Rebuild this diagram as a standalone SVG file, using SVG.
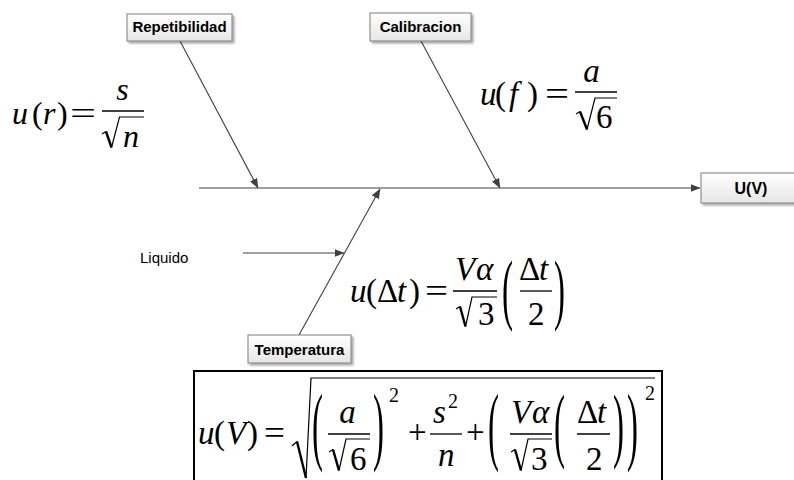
<svg xmlns="http://www.w3.org/2000/svg" width="794" height="480" viewBox="0 0 794 480">
<style>
.lbl{font-family:"Liberation Sans",Arial,sans-serif;font-weight:bold;font-size:15px;fill:#000;text-anchor:middle}
.plain{font-family:"Liberation Sans",Arial,sans-serif;font-size:15px;fill:#000}
.box{fill:url(#g);stroke:#7f7f7f;stroke-width:1;filter:url(#sh)}
.con{stroke:#404040;stroke-width:1.1;fill:none;marker-end:url(#ah)}
.m{font-family:"Liberation Serif","Times New Roman",serif;font-size:33px;fill:#000}
.m1{font-size:32px}
.i{font-style:italic}
.sup{font-size:20px}
.bar{stroke:#000;stroke-width:1.3;fill:none}
.rad{stroke:#000;stroke-width:1.2;fill:none;stroke-linejoin:miter}
.radk{stroke:#000;stroke-width:2.4;fill:none}
.frame{stroke:#000;stroke-width:2;fill:none}
</style>
<defs>
<linearGradient id="g" x1="0" y1="0" x2="0" y2="1"><stop offset="0" stop-color="#ffffff"/><stop offset="1" stop-color="#e6e6e6"/></linearGradient>
<filter id="sh" x="-10%" y="-20%" width="130%" height="160%"><feDropShadow dx="2" dy="2" stdDeviation="1" flood-color="#000" flood-opacity="0.35"/></filter>
<marker id="ah" markerWidth="10" markerHeight="8" refX="9.5" refY="4" orient="auto" markerUnits="userSpaceOnUse"><path d="M0,0 L10,4 L0,8 z" fill="#404040"/></marker>
</defs>

<g id="connectors">
<line class="con" x1="199" y1="188" x2="700" y2="188"/>
<line class="con" x1="180" y1="41" x2="258" y2="188"/>
<line class="con" x1="421" y1="41" x2="500" y2="188"/>
<line class="con" x1="299" y1="335" x2="380" y2="189"/>
<line class="con" x1="243" y1="253" x2="344" y2="253"/>
</g>

<g id="n-repetibilidad"><rect class="box" x="127" y="14" width="105" height="27"/><text class="lbl" x="179.5" y="32">Repetibilidad</text></g>
<g id="n-calibracion"><rect class="box" x="370" y="13" width="101" height="28"/><text class="lbl" x="420.5" y="32">Calibracion</text></g>
<g id="n-temperatura"><rect class="box" x="248" y="335" width="103" height="28"/><text class="lbl" x="299.5" y="355">Temperatura</text></g>
<g id="n-uv"><rect class="box" x="701" y="173" width="110" height="30"/><text class="lbl" x="751" y="194" style="font-size:16px">U(V)</text></g>
<g id="n-liquido"><text class="plain" x="140" y="263">Liquido</text></g>

<g id="f-repetibilidad">
<text class="m m1 i" x="12" y="124">u</text>
<text class="m m1" x="32" y="124">(</text>
<text class="m m1 i" x="43" y="124">r</text>
<text class="m m1" x="57" y="124">)</text>
<text class="m m1" x="70" y="124" textLength="26" lengthAdjust="spacingAndGlyphs">=</text>
<text class="m m1 i" x="122.5" y="100" text-anchor="middle">s</text>
<line class="bar" x1="102" y1="111" x2="144" y2="111"/>
<path class="rad" d="M102,134 L106,131.5"/>
<path class="radk" d="M106,131.5 L111.5,147.5"/>
<path class="rad" d="M111.5,147.5 L119.5,117 L144,117"/>
<text class="m m1 i" x="123" y="147">n</text>
</g>

<g id="f-calibracion">
<text class="m i" x="480" y="105">u</text>
<text class="m" x="495" y="105">(</text>
<text class="m i" x="509" y="105">f</text>
<text class="m" x="527" y="105">)</text>
<text class="m" x="545" y="105" textLength="24" lengthAdjust="spacingAndGlyphs">=</text>
<text class="m i" x="591.5" y="82" text-anchor="middle">a</text>
<line class="bar" x1="575" y1="92" x2="617" y2="92"/>
<path class="rad" d="M576,114 L580,111.5"/>
<path class="radk" d="M580,111.5 L587,129.5"/>
<path class="rad" d="M587,129.5 L595,98 L617,98"/>
<text class="m" x="596" y="128">6</text>
</g>

<g id="f-temperatura">
<text class="m i" x="350" y="302">u</text>
<text class="m" x="366" y="302">(</text>
<text class="m" x="377" y="302">Δ</text>
<text class="m i" x="397" y="302">t</text>
<text class="m" x="409" y="302">)</text>
<text class="m" x="425" y="302" textLength="23" lengthAdjust="spacingAndGlyphs">=</text>
<text class="m i" x="455" y="280">V</text>
<text class="m i" x="476" y="280">α</text>
<line class="bar" x1="453" y1="291" x2="497" y2="291"/>
<path class="rad" d="M456,309 L460,306.5"/>
<path class="radk" d="M460,306.5 L465.5,326.5"/>
<path class="rad" d="M465.5,326.5 L472,297 L497,297"/>
<text class="m" x="478" y="325">3</text>
<text class="m" transform="translate(502,315) scale(1,2.4)">(</text>
<text class="m" x="519" y="280">Δ</text>
<text class="m i" x="539" y="280">t</text>
<line class="bar" x1="520" y1="291" x2="552" y2="291"/>
<text class="m" x="528" y="325">2</text>
<text class="m" transform="translate(554,315) scale(1,2.4)">)</text>
</g>

<g id="f-total">
<rect class="frame" x="194" y="371" width="468" height="120"/>
<text class="m i" x="198" y="444">u</text>
<text class="m" x="214" y="444">(</text>
<text class="m i" x="226" y="444">V</text>
<text class="m" x="247" y="444">)</text>
<text class="m" x="264" y="444" textLength="21" lengthAdjust="spacingAndGlyphs">=</text>
<path class="rad" d="M292,446 L297,441.5"/>
<path class="radk" d="M297,441.5 L306,478"/>
<path class="rad" d="M306,478 L311,378 L655,378"/>
<text class="m" transform="translate(312,454) scale(1,2.65)">(</text>
<text class="m i" x="347.5" y="423" text-anchor="middle">a</text>
<line class="bar" x1="328" y1="434" x2="370" y2="434"/>
<path class="rad" d="M329,452 L333,449.5"/>
<path class="radk" d="M333,449.5 L339,470.5"/>
<path class="rad" d="M339,470.5 L346,439 L370,439"/>
<text class="m" x="350" y="470">6</text>
<text class="m" transform="translate(373,454) scale(1,2.65)">)</text>
<text class="m sup" x="389" y="402">2</text>
<text class="m" x="408" y="443">+</text>
<text class="m i" x="433" y="423">s</text>
<text class="m sup" x="448" y="408">2</text>
<line class="bar" x1="430" y1="434" x2="462" y2="434"/>
<text class="m i" x="438" y="466">n</text>
<text class="m" x="466" y="443">+</text>
<text class="m" transform="translate(488,454) scale(1,2.65)">(</text>
<text class="m i" x="511" y="423">V</text>
<text class="m i" x="532" y="423">α</text>
<line class="bar" x1="510" y1="434" x2="552" y2="434"/>
<path class="rad" d="M511,452 L515,449.5"/>
<path class="radk" d="M515,449.5 L521,470.5"/>
<path class="rad" d="M521,470.5 L528,439 L552,439"/>
<text class="m" x="531" y="470">3</text>
<text class="m" transform="translate(554,452) scale(1,2.5)">(</text>
<text class="m" x="577" y="423">Δ</text>
<text class="m i" x="597" y="423">t</text>
<line class="bar" x1="577" y1="434" x2="610" y2="434"/>
<text class="m" x="586" y="470">2</text>
<text class="m" transform="translate(613,452) scale(1,2.5)">)</text>
<text class="m" transform="translate(627,454) scale(1,2.65)">)</text>
<text class="m sup" x="645" y="400">2</text>
</g>
</svg>
